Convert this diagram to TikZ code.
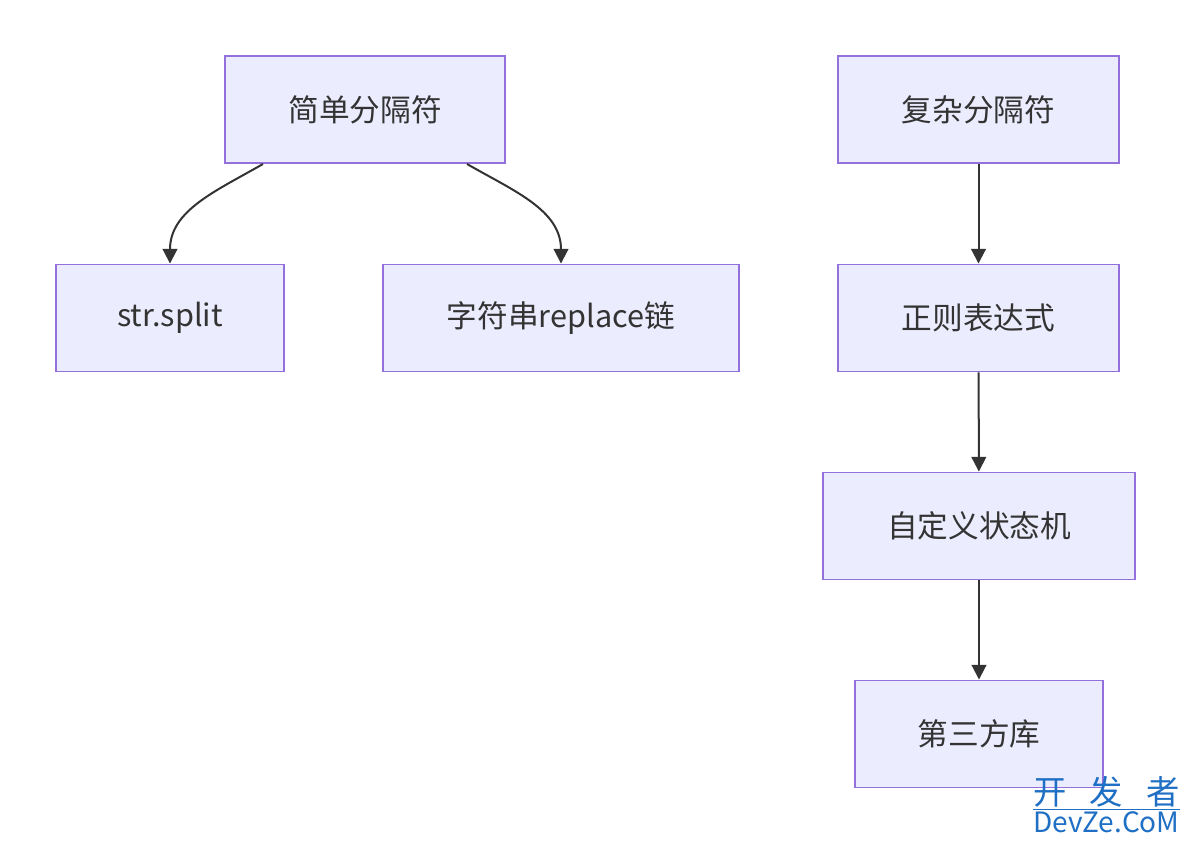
\documentclass[tikz,border=0pt]{standalone}
\usepackage{fontspec}
\setmainfont{Noto Sans CJK SC}
\usetikzlibrary{arrows.meta}
\definecolor{boxfill}{HTML}{ECECFF}
\definecolor{boxline}{HTML}{9370DB}
\definecolor{ink}{HTML}{333333}
\definecolor{wmblue}{HTML}{1F6FC5}
\begin{document}
\begin{tikzpicture}[x=0.75pt,y=-0.75pt,
    box/.style={draw=boxline,fill=boxfill,line width=1.2pt,text=ink,
                minimum height=80.5pt,font=\fontsize{23}{28}\selectfont},
    arr/.style={draw=ink,line width=1.5pt,-{Triangle[length=11pt,width=11pt]}}]

\useasboundingbox (0,0) rectangle (1190,844);

% left tree
\node[box,minimum width=210pt] (simple) at (365,109.5) {简单分隔符};
\node[box,minimum width=171pt] (split) at (170,318) {str.split};
\node[box,minimum width=267pt] (replace) at (561,318) {字符串replace链};

% right chain
\node[box,minimum width=210.75pt] (complex) at (978.5,109.5) {复杂分隔符};
\node[box,minimum width=210.75pt] (regex) at (978.5,318) {正则表达式};
\node[box,minimum width=234pt] (fsm) at (979,526) {自定义状态机};
\node[box,minimum width=186pt] (lib) at (979,734) {第三方库};

\draw[arr] ([xshift=-76.5pt]simple.south) to[out=-150,in=90] (split.north);
\draw[arr] ([xshift=76.5pt]simple.south) to[out=-30,in=90] (replace.north);
\draw[arr] (complex) -- (regex);
\draw[arr] (regex) -- (fsm);
\draw[arr] (fsm) -- (lib);

% watermark
\node[text=wmblue,anchor=north west,inner sep=0pt,
      font=\fontsize{25}{25}\selectfont] (wmtop) at (1033,776)
      {\makebox[110pt][s]{开\hfill 发\hfill 者}};
\node[text=wmblue,anchor=north west,inner sep=0pt,
      font=\fontsize{21}{21}\selectfont] (wmbot) at (1033,811) {DevZe.CoM};
\draw[wmblue,line width=0.5pt] ([yshift=-1.5pt]wmtop.south west) -- ([yshift=-1.5pt]wmtop.south east);
\end{tikzpicture}
\end{document}
